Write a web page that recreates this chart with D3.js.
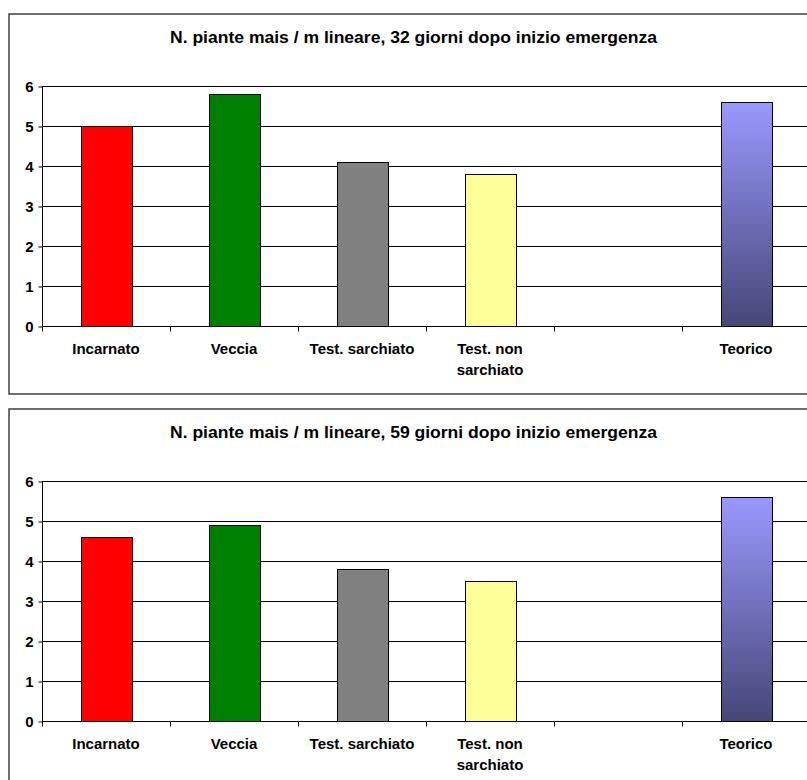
<!DOCTYPE html>
<html>
<head>
<meta charset="utf-8">
<script src="https://cdn.jsdelivr.net/npm/d3@7/dist/d3.min.js"></script>
<style>
  html, body { margin: 0; padding: 0; background: #fff; overflow: hidden; }
  svg { display: block; }
  text { font-family: "Liberation Sans", Arial, sans-serif; fill: #000; }
</style>
</head>
<body>
<svg id="chart" width="807" height="780"></svg>
<script>
// Categories along the x axis (the fifth slot is intentionally left blank)
const categories = ["Incarnato", "Veccia", "Test. sarchiato", "Test. non sarchiato", "", "Teorico"];
const categoryLines = [["Incarnato"], ["Veccia"], ["Test. sarchiato"], ["Test. non", "sarchiato"], [], ["Teorico"]];

// Plants per linear metre at the two survey dates
const values32 = [5.0, 5.8, 4.1, 3.8, null, 5.6];
const values59 = [4.6, 4.9, 3.8, 3.5, null, 5.6];

const titles = [
  "N. piante mais / m lineare, 32 giorni dopo inizio emergenza",
  "N. piante mais / m lineare, 59 giorni dopo inizio emergenza"
];
const yTicks = [0, 1, 2, 3, 4, 5, 6];
const barColors = ["#ff0000", "#008000", "#808080", "#ffff99", "none", "url(#teoricoGrad)"];

const svg = d3.select("#chart");

// Vertical gradient for the theoretical bar
const defs = svg.append("defs");
const grad = defs.append("linearGradient")
  .attr("id", "teoricoGrad").attr("x1", 0).attr("y1", 0).attr("x2", 0).attr("y2", 1);
grad.append("stop").attr("offset", "0%").attr("stop-color", "#9999ff");
grad.append("stop").attr("offset", "100%").attr("stop-color", "#464676");

const panel = { left: 9, width: 811, height: 380 };
const plot = { left: 42, right: 810, top: 72, height: 240 };

function drawPanel(top, title, values) {
  const g = svg.append("g").attr("transform", `translate(0,${top})`);

  g.append("rect")
    .attr("x", panel.left).attr("y", 0)
    .attr("width", panel.width).attr("height", panel.height)
    .attr("fill", "#fff").attr("stroke", "#404040").attr("stroke-width", 1.5);

  g.append("text")
    .attr("x", panel.left + panel.width / 2 - 1).attr("y", 29)
    .attr("text-anchor", "middle")
    .attr("font-weight", "bold").attr("font-size", 17)
    .attr("textLength", 487).attr("lengthAdjust", "spacingAndGlyphs")
    .text(title);

  const x = d3.scaleBand().domain(d3.range(categories.length))
    .range([plot.left, plot.right]).paddingInner(0).paddingOuter(0);
  const y = d3.scaleLinear().domain([0, 6])
    .range([plot.top + plot.height, plot.top]);

  // horizontal gridlines
  g.append("g").selectAll("line").data(yTicks.filter(d => d > 0)).join("line")
    .attr("x1", plot.left).attr("x2", plot.right)
    .attr("y1", d => Math.round(y(d)) + 0.5).attr("y2", d => Math.round(y(d)) + 0.5)
    .attr("stroke", "#000").attr("stroke-width", 1);

  // bars
  const bw = 51;
  g.append("g").selectAll("rect")
    .data(values.map((v, i) => ({ v, i })).filter(d => d.v != null))
    .join("rect")
    .attr("x", d => Math.round(x(d.i) + x.bandwidth() / 2 - bw / 2) + 0.5)
    .attr("y", d => Math.round(y(d.v)) + 0.5)
    .attr("width", bw)
    .attr("height", d => Math.round(y(0)) - Math.round(y(d.v)))
    .attr("fill", d => barColors[d.i])
    .attr("stroke", "#000").attr("stroke-width", 1);

  // y axis
  const yAxis = g.append("g").attr("transform", `translate(${plot.left + 0.5},0.5)`)
    .call(d3.axisLeft(y).tickValues(yTicks).tickSize(4).tickPadding(5).tickFormat(d3.format("d")));
  yAxis.select(".domain").attr("stroke", "#000").attr("d", `M-0,${y(6)}V${y(0)}`);
  yAxis.selectAll(".tick line").attr("stroke", "#000");
  yAxis.selectAll(".tick text")
    .attr("font-family", "\"Liberation Sans\", Arial, sans-serif")
    .attr("font-size", 15).attr("font-weight", "bold").attr("fill", "#000");

  // x axis: baseline and ticks at category boundaries
  const y0 = Math.round(y(0)) + 0.5;
  g.append("line").attr("x1", plot.left).attr("x2", plot.right)
    .attr("y1", y0).attr("y2", y0).attr("stroke", "#000");
  const bounds = d3.range(categories.length + 1).map(i => plot.left + i * x.step());
  g.append("g").selectAll("line").data(bounds).join("line")
    .attr("x1", d => Math.round(d) + 0.5).attr("x2", d => Math.round(d) + 0.5)
    .attr("y1", y0).attr("y2", y0 + 5).attr("stroke", "#000");

  // category labels
  const lab = g.append("g").selectAll("text").data(categoryLines).join("text")
    .attr("x", (d, i) => x(i) + x.bandwidth() / 2)
    .attr("y", y0 + 27)
    .attr("text-anchor", "middle")
    .attr("font-size", 15).attr("font-weight", "bold");
  lab.selectAll("tspan").data(d => d).join("tspan")
    .attr("x", function () { return this.parentNode.getAttribute("x"); })
    .attr("dy", (d, j) => j === 0 ? 0 : 21)
    .text(d => d);
}

drawPanel(14, titles[0], values32);
drawPanel(409, titles[1], values59);
</script>
</body>
</html>
